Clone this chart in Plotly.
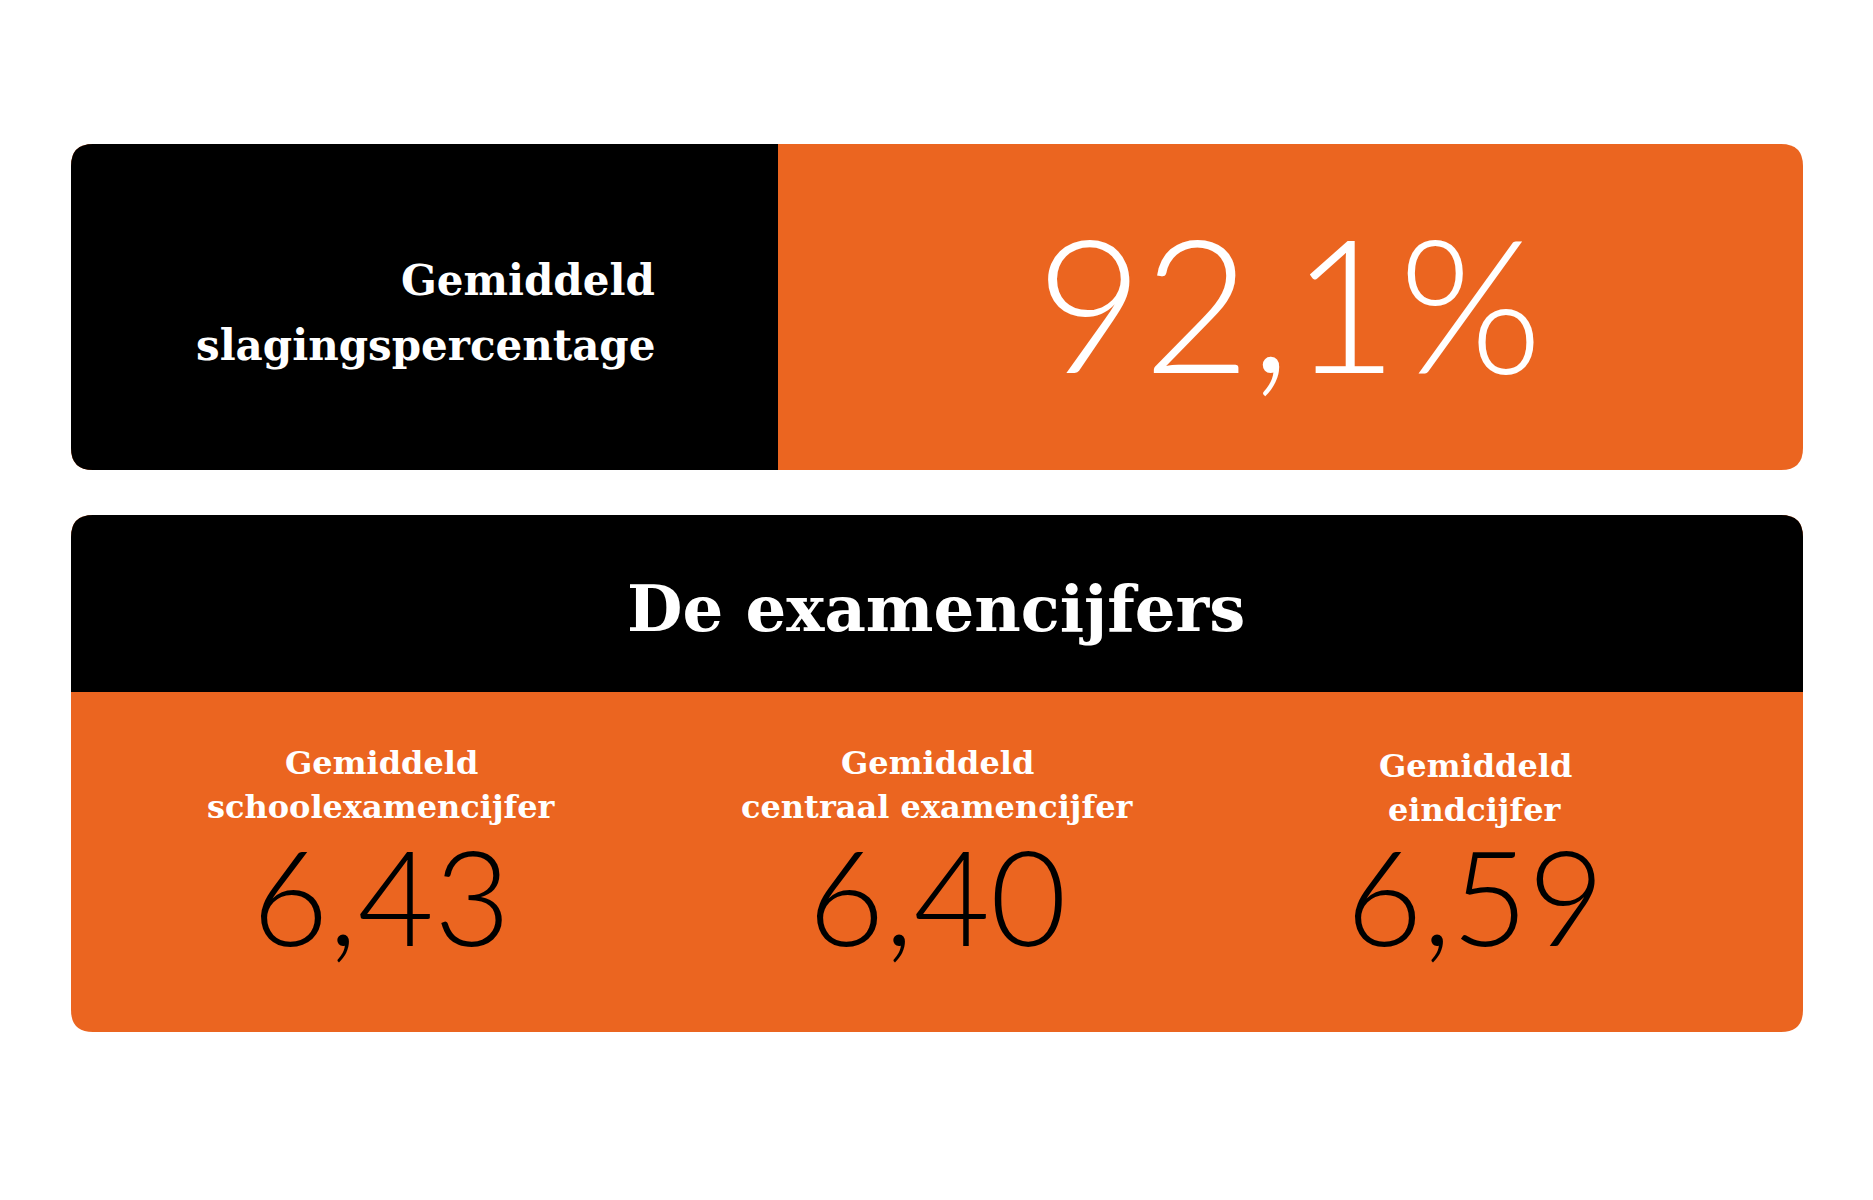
import plotly.graph_objects as go

W, H = 1873, 1200
orange = '#EB6520'

# data
top_label = ['Gemiddeld', 'slagingspercentage']
top_value = '92,1%'
header = 'De examencijfers'
grade_labels = [['Gemiddeld', 'schoolexamencijfer'],
                ['Gemiddeld', 'centraal examencijfer'],
                ['Gemiddeld', 'eindcijfer']]
grade_values = ['6,43', '6,40', '6,59']

OX, OY = -9, -9  # global nudge


def rrect(x0, y0, x1, y1, r=(22, 22, 22, 22)):
    # r: top-left, top-right, bottom-right, bottom-left (y axis reversed)
    x0, x1, y0, y1 = x0 + OX, x1 + OX, y0 + OY, y1 + OY
    tl, tr, br, bl = r
    return (f"M{x0+tl},{y0} L{x1-tr},{y0} Q{x1},{y0} {x1},{y0+tr} "
            f"L{x1},{y1-br} Q{x1},{y1} {x1-br},{y1} L{x0+bl},{y1} "
            f"Q{x0},{y1} {x0},{y1-bl} L{x0},{y0+tl} Q{x0},{y0} {x0+tl},{y0} Z")


fig = go.Figure()
shapes = [
    dict(type='path', path=rrect(72, 145, 1804, 471), fillcolor=orange, line_width=0),
    dict(type='path', path=rrect(72, 145, 779, 471, (22, 0, 0, 22)), fillcolor='black', line_width=0),
    dict(type='path', path=rrect(72, 516, 1804, 1033), fillcolor=orange, line_width=0),
    dict(type='path', path=rrect(72, 516, 1804, 693, (22, 22, 0, 0)), fillcolor='black', line_width=0),
]

slab = 'DejaVu Serif'
thin = 'Lato'
ann = []
for i, t in enumerate(top_label):
    ann.append(dict(x=658 + OX, y=281 + OY + i * 65, text=f'<b>{t}</b>', xanchor='right', yanchor='middle',
                    showarrow=False, font=dict(family=slab, size=42, color='white')))
ann.append(dict(x=1290 + OX, y=302 + OY, text=top_value, showarrow=False, xanchor='center', yanchor='middle',
                font=dict(family=thin, size=185, color='white', weight=300)))
ann.append(dict(x=937 + OX, y=609 + OY, text=f'<b>{header}</b>', showarrow=False,
                font=dict(family=slab, size=64, color='white')))
cx = [382, 938, 1476]
for i, (lab, val) in enumerate(zip(grade_labels, grade_values)):
    dy = 3 if i == 2 else 0
    for j, t in enumerate(lab):
        ann.append(dict(x=cx[i] + OX, y=764 + OY + dy + j * 44, text=f'<b>{t}</b>', showarrow=False,
                        font=dict(family=slab, size=32, color='white')))
    ann.append(dict(x=cx[i] + OX, y=896 + OY, text=val, showarrow=False,
                    font=dict(family=thin, size=132, color='black', weight=300)))

fig.update_layout(width=W, height=H, margin=dict(l=0, r=0, t=0, b=0),
                  paper_bgcolor='white', plot_bgcolor='white',
                  shapes=shapes, annotations=ann, showlegend=False,
                  xaxis=dict(range=[0, W], visible=False),
                  yaxis=dict(range=[H, 0], visible=False))
fig.write_html("out.html")
